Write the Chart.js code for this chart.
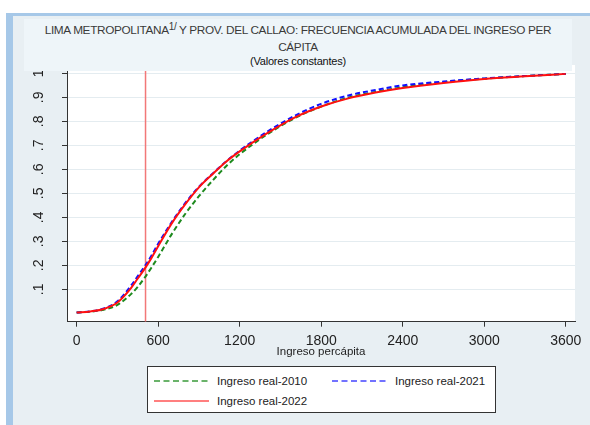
<!DOCTYPE html>
<html>
<head>
<meta charset="utf-8">
<script src="https://cdn.jsdelivr.net/npm/chart.js@4"></script>
<style>
  body { margin: 0; width: 590px; height: 425px; background: #fff; position: relative; overflow: hidden; font-family: "Liberation Sans", Arial, sans-serif; }
  #marco { position: absolute; left: 6px; top: 13px; right: 0; bottom: 0; background: #e8eff3;
           border-left: 7px solid #a6c8e8; border-top: 3px solid #a6c8e8; }
  #grafico { position: absolute; left: 0; top: 0; }
  #titulo { position: absolute; left: 24px; top: 19px; width: 548px; height: 52px; background: #eef5f9;
            text-align: center; color: #3a3a3a; z-index: 2; }
  #titulo .t1 { font-size: 11.8px; letter-spacing: -0.35px; line-height: 16.5px; padding-top: 3px; }
  #titulo .t1 sup { font-size: 10px; line-height: 0; vertical-align: 4px; }
  #titulo .t2 { font-size: 11px; letter-spacing: -0.2px; line-height: 13px; color: #111; }
  #leyenda { position: absolute; left: 147px; top: 366px; width: 347px; height: 45px; background: #fff;
             border: 1px solid #333; z-index: 2; }
  #leyenda svg { position: absolute; left: 0; top: 0; }
  #leyenda span { position: absolute; font-size: 11.5px; color: #222; line-height: 14px; }
</style>
</head>
<body>
<div id="marco"></div>
<canvas id="grafico" width="590" height="360"></canvas>
<div id="titulo">
  <div class="t1">LIMA METROPOLITANA<sup>1/</sup> Y PROV. DEL CALLAO: FRECUENCIA ACUMULADA DEL INGRESO PER<br>CÁPITA</div>
  <div class="t2">(Valores constantes)</div>
</div>
<div id="leyenda">
  <svg width="347" height="45">
    <line x1="6" y1="14" x2="61" y2="14" stroke="#3a9a3a" stroke-width="1.5" stroke-dasharray="6,3.5"/>
    <line x1="184" y1="14" x2="240" y2="14" stroke="#4444ff" stroke-width="1.5" stroke-dasharray="6,3.5"/>
    <line x1="6" y1="34" x2="61" y2="34" stroke="#ff5555" stroke-width="1.5"/>
  </svg>
  <span style="left:69px; top:7px;">Ingreso real-2010</span>
  <span style="left:247px; top:7px;">Ingreso real-2021</span>
  <span style="left:69px; top:27px;">Ingreso real-2022</span>
</div>

<script>
/* DATOS */
const ingreso  = [0, 100, 200, 300, 400, 450, 500, 550, 600, 700, 800, 900, 1000, 1100, 1200, 1400, 1600, 1800, 2000, 2200, 2400, 2700, 3000, 3300, 3600];
const real2010 = [0.003, 0.007, 0.015, 0.035, 0.08, 0.11, 0.148, 0.19, 0.235, 0.33, 0.415, 0.488, 0.553, 0.613, 0.663, 0.745, 0.812, 0.862, 0.899, 0.923, 0.942, 0.963, 0.978, 0.989, 0.998];
const real2021 = [0.003, 0.008, 0.02, 0.05, 0.115, 0.155, 0.195, 0.24, 0.29, 0.38, 0.46, 0.527, 0.582, 0.633, 0.678, 0.756, 0.822, 0.873, 0.908, 0.931, 0.95, 0.966, 0.979, 0.989, 0.998];
const real2022 = [0.003, 0.008, 0.018, 0.045, 0.105, 0.145, 0.185, 0.23, 0.28, 0.375, 0.455, 0.525, 0.58, 0.632, 0.675, 0.75, 0.815, 0.862, 0.896, 0.92, 0.939, 0.96, 0.977, 0.988, 0.998];
const lineaPobreza = 507;

const ticksX = [0, 600, 1200, 1800, 2400, 3000, 3600];
const ticksY = [0.1, 0.2, 0.3, 0.4, 0.5, 0.6, 0.7, 0.8, 0.9, 1];
const etiquetasY = [".1", ".2", ".3", ".4", ".5", ".6", ".7", ".8", ".9", "1"];

const Y_MIN = -0.035, Y_MAX = 1.035;
const X_MIN = -71, X_MAX = 3668;

const puntos = serie => ingreso.map((x, i) => ({ x: x, y: serie[i] }));

/* fondo blanco del area del grafico */
const fondoBlanco = {
  id: "fondoBlanco",
  beforeDraw(chart) {
    const a = chart.chartArea;
    chart.ctx.save();
    chart.ctx.fillStyle = "#fff";
    chart.ctx.fillRect(a.left, a.top, a.right - a.left, a.bottom - a.top);
    chart.ctx.restore();
  }
};

Chart.defaults.font.family = "'Liberation Sans', Arial, sans-serif";
Chart.defaults.color = "#222";

new Chart(document.getElementById("grafico"), {
  type: "line",
  data: {
    datasets: [
      { label: "Ingreso real-2022", data: puntos(real2022), borderColor: "#ff1010", borderWidth: 2, order: 1 },
      { label: "Ingreso real-2021", data: puntos(real2021), borderColor: "#1010ff", borderWidth: 2, borderDash: [5, 3], order: 2 },
      { label: "Ingreso real-2010", data: puntos(real2010), borderColor: "#1e8a1e", borderWidth: 2, borderDash: [5, 3], order: 3 },
      { label: "Linea", data: [{ x: lineaPobreza, y: Y_MIN }, { x: lineaPobreza, y: Y_MAX }], borderColor: "#f27878", borderWidth: 1.5, order: 4 }
    ]
  },
  options: {
    responsive: false,
    animation: false,
    devicePixelRatio: 1,
    layout: { padding: { left: 0, right: 15, top: 65, bottom: 0 } },
    elements: { point: { radius: 0 }, line: { cubicInterpolationMode: "monotone", fill: false } },
    plugins: { legend: { display: false }, tooltip: { enabled: false } },
    scales: {
      x: {
        type: "linear",
        min: X_MIN, max: X_MAX,
        afterBuildTicks: s => { s.ticks = ticksX.map(v => ({ value: v })); },
        afterFit: s => { s.height = 38.3; },
        ticks: { font: { size: 14 }, padding: 6, maxRotation: 0, color: "#222", callback: v => String(v) },
        grid: { drawOnChartArea: false, tickLength: 5, tickColor: "#333" },
        border: { color: "#333", width: 1 },
        title: { display: true, text: "Ingreso percápita", font: { size: 11.5 }, color: "#222", padding: { top: 0, bottom: 1.4 } }
      },
      y: {
        type: "linear",
        min: Y_MIN, max: Y_MAX,
        afterBuildTicks: s => { s.ticks = ticksY.map(v => ({ value: v })); },
        afterFit: s => { s.width = 67; },
        ticks: {
          font: { size: 14 }, padding: 17, minRotation: 90, maxRotation: 90, crossAlign: "center", color: "#222",
          callback: v => etiquetasY[ticksY.indexOf(v)]
        },
        grid: { color: "#e4ecf0", lineWidth: 1, tickLength: 5, tickColor: "#333" },
        border: { color: "#333", width: 1 }
      }
    }
  },
  plugins: [fondoBlanco]
});
</script>
</body>
</html>
